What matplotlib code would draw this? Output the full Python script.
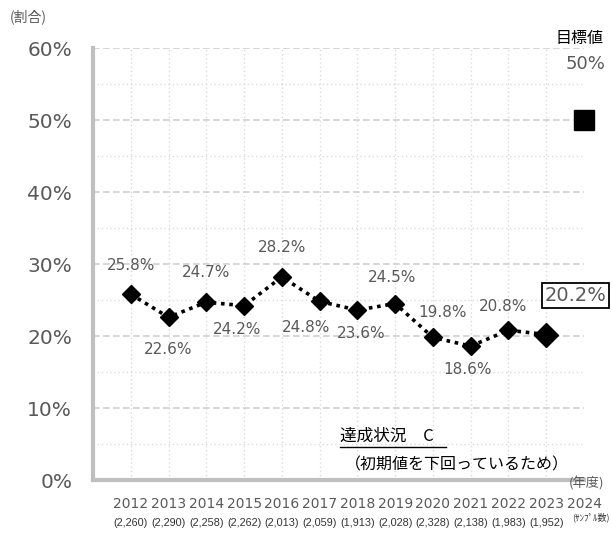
import matplotlib
matplotlib.use("Agg")
import matplotlib.pyplot as plt
from matplotlib.ticker import MultipleLocator, FixedLocator

plt.rcParams['font.family'] = ['DejaVu Sans', 'Noto Sans CJK JP']

years = [2012, 2013, 2014, 2015, 2016, 2017, 2018, 2019, 2020, 2021, 2022, 2023]
values = [25.8, 22.6, 24.7, 24.2, 28.2, 24.8, 23.6, 24.5, 19.8, 18.6, 20.8, 20.2]
samples = ["(2,260)", "(2,290)", "(2,258)", "(2,262)", "(2,013)", "(2,059)", "(1,913)",
           "(2,028)", "(2,328)", "(2,138)", "(1,983)", "(1,952)"]
target_year = 2024
target_value = 50
tick_years = years + [target_year]
# label offsets in points (dx, dy)
label_offsets = [(0, 21), (0, -23), (0, 21), (-5, -17), (0, 21), (-10, -19), (3, -17),
                 (-2, 19), (7, 18), (-2, -17), (-4, 17)]

grey = '#595959'
fig = plt.figure(figsize=(6.12, 5.34), dpi=100)
ax = fig.add_axes([93/612, 54/534, (584-93)/612, (480-48)/534])
ax.set_xlim(2011, 2024)
ax.set_ylim(0, 60)

ax.yaxis.set_major_locator(MultipleLocator(10))
ax.yaxis.set_minor_locator(MultipleLocator(5))
ax.xaxis.set_major_locator(FixedLocator(tick_years))
ax.grid(axis='y', which='major', color='#D0D0D0', linestyle=(0, (4, 2)), linewidth=1.2)
ax.grid(axis='y', which='minor', color='#DADADA', linestyle=(0, (1, 2)), linewidth=1)
for x in years:
    ax.axvline(x, color='#DADADA', linestyle=(0, (1, 2)), linewidth=1, zorder=0)
ax.set_axisbelow(True)

for s in ['top', 'right']:
    ax.spines[s].set_visible(False)
for s in ['left', 'bottom']:
    ax.spines[s].set_color('#BFBFBF')
    ax.spines[s].set_linewidth(3)

ax.set_yticklabels([f"{int(v)}%" for v in ax.get_yticks()], fontsize=14.5, color=grey)
ax.tick_params(axis='y', which='both', length=0, pad=15)
ax.tick_params(axis='x', which='both', length=0, pad=12)
ax.set_xticklabels([str(y) for y in tick_years], fontsize=10, color=grey)

ax.plot(years, values, color='black', linestyle=(0, (1, 1.3)), linewidth=2.6, zorder=3)
ax.plot(years[:-1], values[:-1], linestyle='none', marker='D', markersize=9,
        color='black', zorder=4)
ax.plot(years[-1:], values[-1:], linestyle='none', marker='D', markersize=12,
        color='black', zorder=4)
ax.plot([target_year], [target_value], linestyle='none', marker='s', markersize=15,
        color='black', zorder=4, clip_on=False)

for x, v, (dx, dy) in zip(years[:-1], values[:-1], label_offsets):
    ax.annotate(f"{v}%", (x, v), xytext=(dx, dy), textcoords='offset points',
                ha='center', va='center', fontsize=11, color=grey)

ax.annotate(f"{values[-1]}%", (years[-1], values[-1]), xytext=(21, 28),
            textcoords='offset points', ha='center', va='center', fontsize=14,
            color=grey, annotation_clip=False,
            bbox=dict(boxstyle='square,pad=0.15', fc='white', ec='black', lw=1.3))

ax.annotate("目標値", (target_year, target_value), xytext=(-3, 59), textcoords='offset points',
            ha='center', va='center', fontsize=11.5, color='black', annotation_clip=False,
            family=['Noto Sans CJK JP'])
ax.annotate(f"{target_value}%", (target_year, target_value), xytext=(1, 40),
            textcoords='offset points', ha='center', va='center', fontsize=13,
            color=grey, annotation_clip=False)

# sample counts
for x, s in zip(years, samples):
    ax.annotate(s, (x, 0), xycoords=('data', 'axes fraction'), xytext=(0, -31),
                textcoords='offset points', ha='center', va='center',
                fontsize=7.8, color='#333333', family=['Liberation Sans'],
                annotation_clip=False)

fig.text(10/612, 1-17/534, "(割合)", fontsize=10, color=grey, va='center',
         family=['Noto Sans CJK JP'])
fig.text(586/612, 1-484/534, "(年度)", fontsize=9.5, color=grey, va='center', ha='center',
         family=['Noto Sans CJK JP'])
fig.text(591/612, 1-517/534, "(ｻﾝﾌﾟﾙ数)", fontsize=6.5, color='#333333', va='center',
         ha='center', family=['Noto Sans CJK JP'])

fig.text(340/612, 1-436/534, "達成状況　C", fontsize=12, color='black', va='center',
         ha='left', family=['Noto Sans CJK JP'])
fig.add_artist(plt.Line2D([340/612, 446/612], [1-447/534, 1-447/534], color='black', lw=1))
fig.text(345/612, 1-465/534, "（初期値を下回っているため）", fontsize=11.5, color='black',
         va='center', ha='left', family=['Noto Sans CJK JP'])

fig.savefig("out.png", dpi=100)
